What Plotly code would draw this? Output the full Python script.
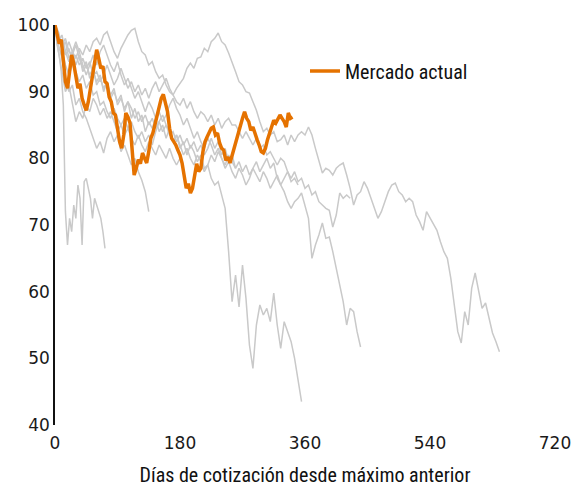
import plotly.graph_objects as go

# ---- data ----
actual = [100, 98.5, 97.2, 97.8, 94, 91.5, 90.5, 93.5, 95.5, 94.2, 92, 90.5, 91.2, 89, 88, 87.2,
          88.5, 90.5, 92.8, 94.8, 96.3, 95, 93.5, 93.8, 91.5, 91.2, 89.2, 88.5, 86.8, 86.5, 84,
          82.5, 81.5, 83.5, 86.8, 86.2, 85.3, 81, 77.5, 78.5, 79.8, 79.2, 80.8, 80, 79.3, 81, 83,
          83.8, 85, 86.2, 87.5, 89, 89.6, 88, 87, 84.5, 83, 82.5, 82, 81.2, 80.5, 79.3, 77, 75.5,
          76.2, 74.8, 75.5, 77.8, 79.2, 78, 78.5, 81, 82.5, 83.2, 83.8, 84.5, 84.7, 83.5, 83.8,
          82.3, 81.5, 81.2, 79.7, 80.2, 79.3, 80.5, 81.5, 82.5, 83.8, 85, 86, 87, 86, 85.5, 84.2,
          84.7, 83.5, 82.8, 82, 81, 80.8, 81.5, 82.8, 83.8, 84.5, 85.7, 85.3, 86, 86.5, 86, 85.5,
          84.7, 86.8, 86, 86.2]
actual_step = 3

g1 = [100, 97, 95.5, 93, 88, 72, 67, 71, 69, 73, 71, 76, 74, 67, 76.5, 77, 75.5, 74, 71, 74,
      73, 72, 71, 69, 66.5]
g1_step = 3

g2 = [100, 97, 95, 92, 90, 91, 88, 89, 87, 86, 84.5, 83, 81.5, 82.5, 80.8, 83, 84, 82.5, 83.5,
      81, 82, 80.5, 79, 80, 78, 76.7, 75, 72]

g3 = [100, 98.5, 97, 98, 96, 95.5, 97, 95, 93.5, 94.5, 92, 93, 91.5, 92.5, 90, 91.5, 89.5, 90.5,
      88, 89, 87.5, 88.5, 86, 87.5, 85.5, 86.5, 84, 85.5, 84.5, 86, 84, 85, 83, 84.5, 82.5, 83.5,
      81.5, 82.5, 80.5, 82, 81, 79.5, 80.5, 78.5, 79, 77, 76, 76.5, 74.5, 72.5, 66, 58.5, 62.5,
      57.7, 64, 59, 52, 48.5, 55, 58, 56.5, 57.5, 55.5, 59.8, 55, 51.5, 55.5, 54, 52.5, 50, 47,
      43.5]

g4 = [100, 98, 96.5, 97.5, 95, 96, 94, 95.5, 93, 94, 92.5, 93.5, 91, 92, 90.5, 91.5, 89, 90,
      88.5, 89.5, 87, 88.5, 87.5, 86, 87, 85.5, 86.5, 85, 86, 84.5, 85.5, 84, 85, 83.5, 84, 82.5,
      83.5, 82, 83, 81.5, 82.5, 81, 82, 80.5, 81.5, 83, 81.5, 82.5, 80.5, 81.5, 79.5, 80.5, 78.5,
      79.5, 78, 79, 77.5, 78.5, 79.5, 78, 79, 80, 78.5, 79.3, 77, 76, 75, 73.5, 72.5, 73.5, 74,
      74.8, 73, 71, 65, 67, 68.5, 70.3, 68, 68.2, 66, 63.5, 61, 58.5, 55, 57.5, 57, 54, 51.7]

g5 = [100, 98, 96.5, 94, 92.5, 94, 95.5, 94, 95, 93.5, 94.5, 92.5, 93, 91.5, 92.5, 94, 92.5, 91,
      92, 93.5, 92, 90.5, 91.5, 90, 91, 89.5, 90.5, 89, 90.5, 91.5, 90, 91, 92, 90.5, 89.5, 90.5,
      91.3, 92, 93.5, 94.3, 93.5, 95, 95.2, 96.5, 96, 97.5, 98, 98.8, 97.5, 97, 95.8, 94.5, 93,
      91.5, 91, 90, 89.8, 88.5, 87.2, 85.5, 84, 84.5, 83.5, 84, 82.5, 82.8, 83.5, 82, 83.5, 82.5,
      83.5, 84, 83.5, 84.7, 83.5, 81.5, 79.5, 77.8, 78.5, 78.2, 77.5, 78.5, 79, 79.3, 77.5, 75.5,
      73, 74.5, 75, 76.5, 75.5, 74, 72.5, 71, 72, 73.5, 75, 76, 76.3, 75, 74.5, 73.5, 74, 73.5,
      71.5, 70.5, 69.2, 72, 71, 70, 69.2, 67.5, 66, 65, 62, 58, 54, 52.3, 57, 55, 60.5, 62.8, 60,
      57.5, 58.3, 56, 53.8, 52.5, 51]

g6 = [100, 98.5, 97, 96, 97.5, 96, 95, 96.5, 95.5, 97, 96, 97.5, 98, 97, 98.5, 99, 97.5, 96,
      95, 96.5, 97.5, 98.5, 99.2, 99.5, 97.5, 96, 95.5, 94, 94.5, 93, 92, 92.5, 91, 90, 89.5,
      88.5, 88, 89, 87.5, 88.5, 87, 86, 87, 86.5, 85.5, 86.5, 85, 86, 84.5, 85.5, 86, 85, 85, 84,
      83, 84, 83, 82, 83, 81.5, 82, 80.5, 81, 80, 79, 80, 79.5, 78, 77, 78, 76.5, 77, 75.5, 76,
      74.5, 75, 73.5, 73, 72.5, 72.2, 69.7, 71.5, 74.8, 74, 74.5, 74]

g7 = [100, 97.5, 98.5, 96, 94.5, 96, 97.5, 96, 94, 92.5, 94, 95.5, 94, 96, 97, 95.5, 94, 93,
      94.5, 92.5, 91, 92, 90.5, 89, 90, 88.5, 87, 88.5, 87.5, 86, 87, 85.5, 86.5, 88, 89, 87.5,
      86.5, 85, 86, 84.5, 83, 84, 82.5, 81.5, 83, 82, 80.5, 81.5, 80, 78.5, 79.5, 78, 77, 78.5,
      77.5, 76, 77, 78.5, 77.5, 76.5, 78, 77, 75.5, 76.5, 77.5, 76, 77, 78, 76.5, 77, 76]

g8 = [100, 99, 97, 95.5, 96.5, 94.5, 93, 91.5, 92.5, 90.5, 91.5, 89.5, 90, 88, 88.5, 87, 86,
      87.5, 86, 85, 86, 84.5, 85.5, 84, 83, 84, 82.5, 83.5, 82, 84, 85.5, 86.5, 85, 84, 82.5,
      83.5, 82, 80.5, 81.5, 80, 79, 80.5, 79.5, 78, 79, 80.5, 79.5, 81, 80, 79, 80.5, 79.5, 78.5]

g9 = [100, 96, 93, 90, 91, 88, 85.5, 87, 86, 88, 87, 89, 88, 86.5, 87.5, 86, 87, 85.5, 84, 85,
      83.5, 84.5, 83, 82, 83.5, 82, 81, 82.5, 81.5, 80.5, 82, 81, 80, 81.5, 80, 79, 80]

gray_step = 5
history = [(g1, g1_step), (g2, gray_step), (g3, gray_step), (g4, gray_step), (g5, gray_step),
           (g6, gray_step), (g7, gray_step), (g8, gray_step), (g9, gray_step)]

x_ticks = [0, 180, 360, 540, 720]
y_ticks = [40, 50, 60, 70, 80, 90, 100]
legend_label = "Mercado actual"
x_title = "Días de cotización desde máximo anterior"

# ---- figure ----
GRAY = "#c9c9c9"
ORANGE = "#E57200"
fig = go.Figure()
for vals, step in history:
    fig.add_trace(go.Scatter(x=list(range(0, step * len(vals), step)), y=vals, mode="lines",
                             line=dict(color=GRAY, width=1.5), showlegend=False,
                             hoverinfo="skip"))
fig.add_trace(go.Scatter(x=list(range(0, actual_step * len(actual), actual_step)), y=actual,
                         mode="lines", name=legend_label,
                         line=dict(color=ORANGE, width=3.5)))

tick_font = dict(family="DejaVu Sans", size=17, color="#1a1a1a")
narrow = "Liberation Sans Narrow, Roboto Condensed, Roboto, sans-serif"
fig.update_layout(
    width=576, height=487,
    margin=dict(l=55, r=21, t=25, b=62),
    plot_bgcolor="white", paper_bgcolor="white",
    showlegend=True,
    legend=dict(x=0.50, y=0.885, xanchor="left", yanchor="middle",
                font=dict(family=narrow, size=20, color="#111"),
                bgcolor="rgba(0,0,0,0)"),
    xaxis=dict(range=[0, 720], tickvals=x_ticks, showgrid=False, zeroline=False,
               showline=False, ticks="outside", ticklen=3, tickcolor="rgba(0,0,0,0)",
               tickfont=tick_font, automargin=False,
               title=dict(text=x_title, font=dict(family=narrow, size=20, color="#111"),
                          standoff=24)),
    yaxis=dict(range=[40, 100], tickvals=y_ticks, showgrid=False, zeroline=False,
               showline=True, linecolor="#111", linewidth=1.5, ticks="",
               tickfont=tick_font, automargin=False),
)
fig.write_html("out.html", config={"displayModeBar": False},
               post_script="document.body.style.margin='0';document.body.style.overflow='hidden';")
